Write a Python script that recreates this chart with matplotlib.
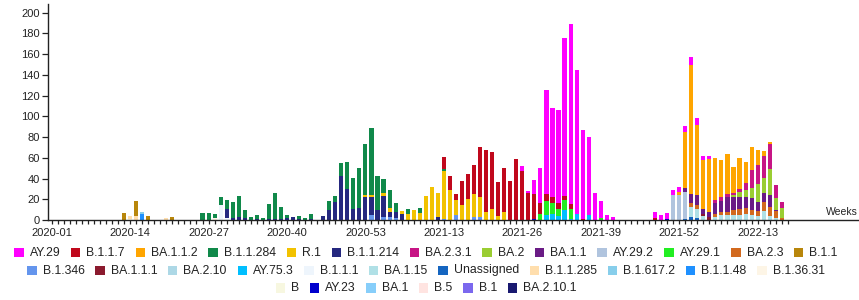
"""
Weekly lineage counts - stacked bar chart
"""

import numpy as np
import pandas as pd
import matplotlib
matplotlib.use('Agg')
import matplotlib.pyplot as plt
from matplotlib.patches import Rectangle

plt.rcParams['font.family'] = ['Liberation Sans', 'DejaVu Sans']

# Week categories on the x axis
weeks = ([f"2020-{w:02d}" for w in range(1, 54)]
         + [f"2021-{w:02d}" for w in range(1, 53)]
         + [f"2022-{w:02d}" for w in range(1, 19)])

# Legend order (also top-to-bottom stacking order)
lineages = ['AY.29', 'B.1.1.7', 'BA.1.1.2', 'B.1.1.284', 'R.1', 'B.1.1.214', 'BA.2.3.1',
            'BA.2', 'BA.1.1', 'AY.29.2', 'AY.29.1', 'BA.2.3', 'B.1.1',
            'B.1.346', 'BA.1.1.1', 'BA.2.10', 'AY.75.3', 'B.1.1.1', 'BA.1.15', 'Unassigned',
            'B.1.1.285', 'B.1.617.2', 'B.1.1.48', 'B.1.36.31',
            'B', 'AY.23', 'BA.1', 'B.5', 'B.1', 'BA.2.10.1']

colors = ['#ff00ff', '#c0081c', '#ffa500', '#10894a', '#f2c200', '#25287f', '#c71585',
          '#9acd32', '#6a1b85', '#b0c4de', '#22ee22', '#d2691e', '#b8860b',
          '#6495ed', '#8b1a2e', '#add8e6', '#00bfff', '#eef5fc', '#b0e0e6', '#1565c0',
          '#ffdead', '#87ceeb', '#1e90ff', '#fdf5e6',
          '#f7f7e0', '#0000cd', '#87cefa', '#ffe4e1', '#7b68ee', '#191970']

legend_rows = [13, 11, 6]

# Weekly counts per lineage (weeks not listed are 0)
ay_29 = {'2021-26': 5, '2021-27': 2, '2021-28': 14, '2021-29': 34, '2021-30': 100, '2021-31': 86,
         '2021-32': 90, '2021-33': 153, '2021-34': 174, '2021-35': 139, '2021-36': 86,
         '2021-37': 75, '2021-38': 26, '2021-39': 16, '2021-40': 5, '2021-41': 3,
         '2021-48': 6, '2021-49': 5, '2021-50': 6, '2021-51': 5, '2021-52': 5,
         '2022-01': 6, '2022-02': 7, '2022-03': 6, '2022-04': 4, '2022-05': 3}
b_1_1_7 = {'2021-13': 12, '2021-14': 13, '2021-15': 6, '2021-16': 24, '2021-17': 24, '2021-18': 28,
           '2021-19': 48, '2021-20': 60, '2021-21': 55, '2021-22': 33, '2021-23': 42,
           '2021-24': 38, '2021-25': 59, '2021-26': 47, '2021-27': 26, '2021-28': 24,
           '2021-29': 10, '2021-30': 7, '2021-31': 6, '2021-32': 5, '2021-33': 4, '2021-34': 4,
           '2021-36': 1, '2021-48': 2}
ba_1_1_2 = {'2021-52': 3, '2022-01': 54, '2022-02': 125, '2022-03': 68, '2022-04': 47,
            '2022-05': 51, '2022-06': 41, '2022-07': 36, '2022-08': 39, '2022-09': 25,
            '2022-10': 30, '2022-11': 20, '2022-12': 22, '2022-13': 15, '2022-14': 5, '2022-15': 2}
b_1_1_284 = {'2020-26': 7, '2020-27': 7, '2020-28': 4, '2020-29': 8, '2020-30': 8, '2020-31': 15,
             '2020-32': 20, '2020-33': 8, '2020-34': 3, '2020-35': 4, '2020-36': 2, '2020-37': 14,
             '2020-38': 25, '2020-39': 12, '2020-40': 3, '2020-42': 3, '2020-43': 2, '2020-44': 5,
             '2020-47': 8, '2020-48': 6, '2020-49': 13, '2020-50': 26, '2020-51': 30,
             '2020-52': 38, '2020-53': 49, '2021-01': 65, '2021-02': 32, '2021-03': 14,
             '2021-04': 17, '2021-05': 8, '2021-07': 5, '2021-09': 5, '2021-13': 2}
r_1 = {'2020-53': 2, '2021-01': 2, '2021-03': 3, '2021-04': 4, '2021-06': 3, '2021-07': 6,
       '2021-08': 10, '2021-09': 7, '2021-10': 23, '2021-11': 32, '2021-12': 23, '2021-13': 46,
       '2021-14': 29, '2021-15': 14, '2021-16': 14, '2021-17': 20, '2021-18': 22, '2021-19': 19,
       '2021-20': 8, '2021-21': 11, '2021-22': 4, '2021-23': 8}
b_1_1_214 = {'2020-30': 9, '2020-31': 2, '2020-32': 3, '2020-33': 2, '2020-35': 1, '2020-37': 1,
             '2020-38': 1, '2020-39': 1, '2020-40': 2, '2020-41': 3, '2020-42': 1, '2020-44': 1,
             '2020-46': 4, '2020-47': 10, '2020-48': 17, '2020-49': 42, '2020-50': 30,
             '2020-51': 11, '2020-52': 12, '2020-53': 22, '2021-01': 17, '2021-02': 10,
             '2021-03': 20, '2021-04': 5, '2021-05': 6, '2021-06': 6, '2021-12': 3}
ba_2_3_1 = {'2022-06': 3, '2022-07': 4, '2022-08': 3, '2022-09': 2, '2022-10': 3, '2022-11': 7,
            '2022-12': 17, '2022-13': 18, '2022-14': 21, '2022-15': 24, '2022-16': 13, '2022-17': 5}
ba_2 = {'2022-09': 2, '2022-10': 5, '2022-11': 7, '2022-12': 10, '2022-13': 18, '2022-14': 15,
        '2022-15': 25, '2022-16': 11, '2022-17': 10}
ba_1_1 = {'2022-01': 4, '2022-02': 9, '2022-03': 10, '2022-04': 5, '2022-05': 5, '2022-06': 10,
          '2022-07': 10, '2022-08': 14, '2022-09': 12, '2022-10': 11, '2022-11': 10,
          '2022-12': 11, '2022-13': 8, '2022-14': 9, '2022-15': 11, '2022-16': 1}
ay_29_2 = {'2021-51': 24, '2021-52': 24, '2022-01': 26}
ay_29_1 = {'2021-29': 6, '2021-30': 13, '2021-31': 10, '2021-32': 7, '2021-33': 9, '2021-34': 10,
           '2021-39': 2}
ba_2_3 = {'2022-02': 3, '2022-03': 3, '2022-06': 3, '2022-07': 3, '2022-08': 3, '2022-09': 5,
          '2022-10': 6, '2022-11': 6, '2022-12': 5, '2022-13': 5, '2022-14': 8, '2022-15': 9,
          '2022-16': 7, '2022-17': 2}
b_1_1 = {'2020-13': 7, '2020-15': 14, '2020-17': 4, '2020-21': 3}
b_1_346 = {'2021-01': 5, '2021-03': 3, '2021-04': 3, '2021-05': 2, '2021-13': 1, '2021-15': 5,
           '2021-18': 3, '2021-19': 3}
ba_1_1_1 = {'2022-04': 2, '2022-05': 3}
ba_2_10 = {}
ay_75_3 = {'2021-30': 5, '2021-31': 6, '2021-32': 4, '2021-33': 10, '2021-34': 1, '2021-35': 6,
           '2021-37': 5}
b_1_1_1 = {'2020-29': 14, '2020-30': 2}
ba_1_15 = {'2022-02': 10, '2022-03': 9, '2022-04': 4, '2022-06': 3, '2022-07': 5, '2022-08': 5,
           '2022-09': 5, '2022-10': 5, '2022-11': 6, '2022-12': 5, '2022-13': 4, '2022-14': 9,
           '2022-15': 4, '2022-16': 2}
unassigned = {'2022-01': 1, '2022-02': 3, '2022-03': 2}
b_1_1_285 = {'2020-14': 3, '2020-15': 4, '2020-20': 2}
b_1_617_2 = {'2020-16': 2}
b_1_1_48 = {'2020-16': 6}
b_1_36_31 = {'2020-28': 2}
b = {'2020-14': 1}
ay_23 = {'2021-28': 1, '2021-50': 1}
ba_1 = {}
b_5 = {}
b_1 = {}
ba_2_10_1 = {}

series = [ay_29, b_1_1_7, ba_1_1_2, b_1_1_284, r_1, b_1_1_214, ba_2_3_1, ba_2, ba_1_1, ay_29_2,
          ay_29_1, ba_2_3, b_1_1, b_1_346, ba_1_1_1, ba_2_10, ay_75_3, b_1_1_1, ba_1_15,
          unassigned, b_1_1_285, b_1_617_2, b_1_1_48, b_1_36_31, b, ay_23, ba_1, b_5, b_1,
          ba_2_10_1]

W, H = 859, 300
TEXT = '#222222'


def build_table():
    df = pd.DataFrame(0.0, index=weeks, columns=lineages)
    for name, counts in zip(lineages, series):
        for wk, v in counts.items():
            df.loc[wk, name] = v
    return df


def draw_legend(fig):
    renderer = fig.canvas.get_renderer()
    row_y = [252.5, 270.5, 288.0]
    box, box_gap, item_gap, center = 9.3, 6.0, 10.8, 426.0
    k = 0
    for r, n in enumerate(legend_rows):
        names = lineages[k:k + n]
        cols = colors[k:k + n]
        k += n
        texts = [fig.text(0, 0, nm, fontsize=8.8, color=TEXT, va='center', ha='left')
                 for nm in names]
        widths = [t.get_window_extent(renderer).width for t in texts]
        total = sum(box + box_gap + w for w in widths) + item_gap * (n - 1)
        x = center - total / 2
        yc = 1 - row_y[r] / H
        for t, w, c in zip(texts, widths, cols):
            fig.patches.append(Rectangle((x / W, yc - box / 2 / H), box / W, box / H,
                                         transform=fig.transFigure, facecolor=c,
                                         edgecolor='none'))
            t.set_position(((x + box + box_gap) / W, yc))
            x += box + box_gap + w + item_gap


def main():
    df = build_table()

    fig = plt.figure(figsize=(W / 100, H / 100), dpi=100)
    ax = fig.add_axes([48.3 / W, 80 / H, (W - 48.3) / W, 216 / H])

    x = np.arange(len(weeks))
    bottom = np.zeros(len(weeks))
    # stack from the last legend entry upward
    for name, c in zip(lineages[::-1], colors[::-1]):
        vals = df[name].values
        ax.bar(x, vals, bottom=bottom, width=0.68, color=c, linewidth=0)
        bottom += vals

    ax.set_xlim(-0.56, 133.8)
    ax.set_ylim(0, 208.4)

    for s in ['top', 'right']:
        ax.spines[s].set_visible(False)
    for s in ['left', 'bottom']:
        ax.spines[s].set_color(TEXT)
        ax.spines[s].set_linewidth(1.0)

    ax.set_xticks(x)
    ax.set_xticklabels([wk if i % 13 == 0 else '' for i, wk in enumerate(weeks)])
    ax.set_yticks(range(0, 201, 20))
    ax.tick_params(axis='x', length=3.0, width=0.9, color=TEXT, labelsize=8,
                   labelcolor=TEXT, pad=2.5)
    ax.tick_params(axis='y', length=4.1, width=0.9, color=TEXT, labelsize=8,
                   labelcolor=TEXT, pad=2.0)

    fig.text(858 / W, 1 - 215 / H, 'Weeks', ha='right', va='baseline',
             fontsize=7.5, color=TEXT)

    draw_legend(fig)

    fig.savefig('out.png', dpi=100)
    plt.close(fig)


if __name__ == "__main__":
    main()
